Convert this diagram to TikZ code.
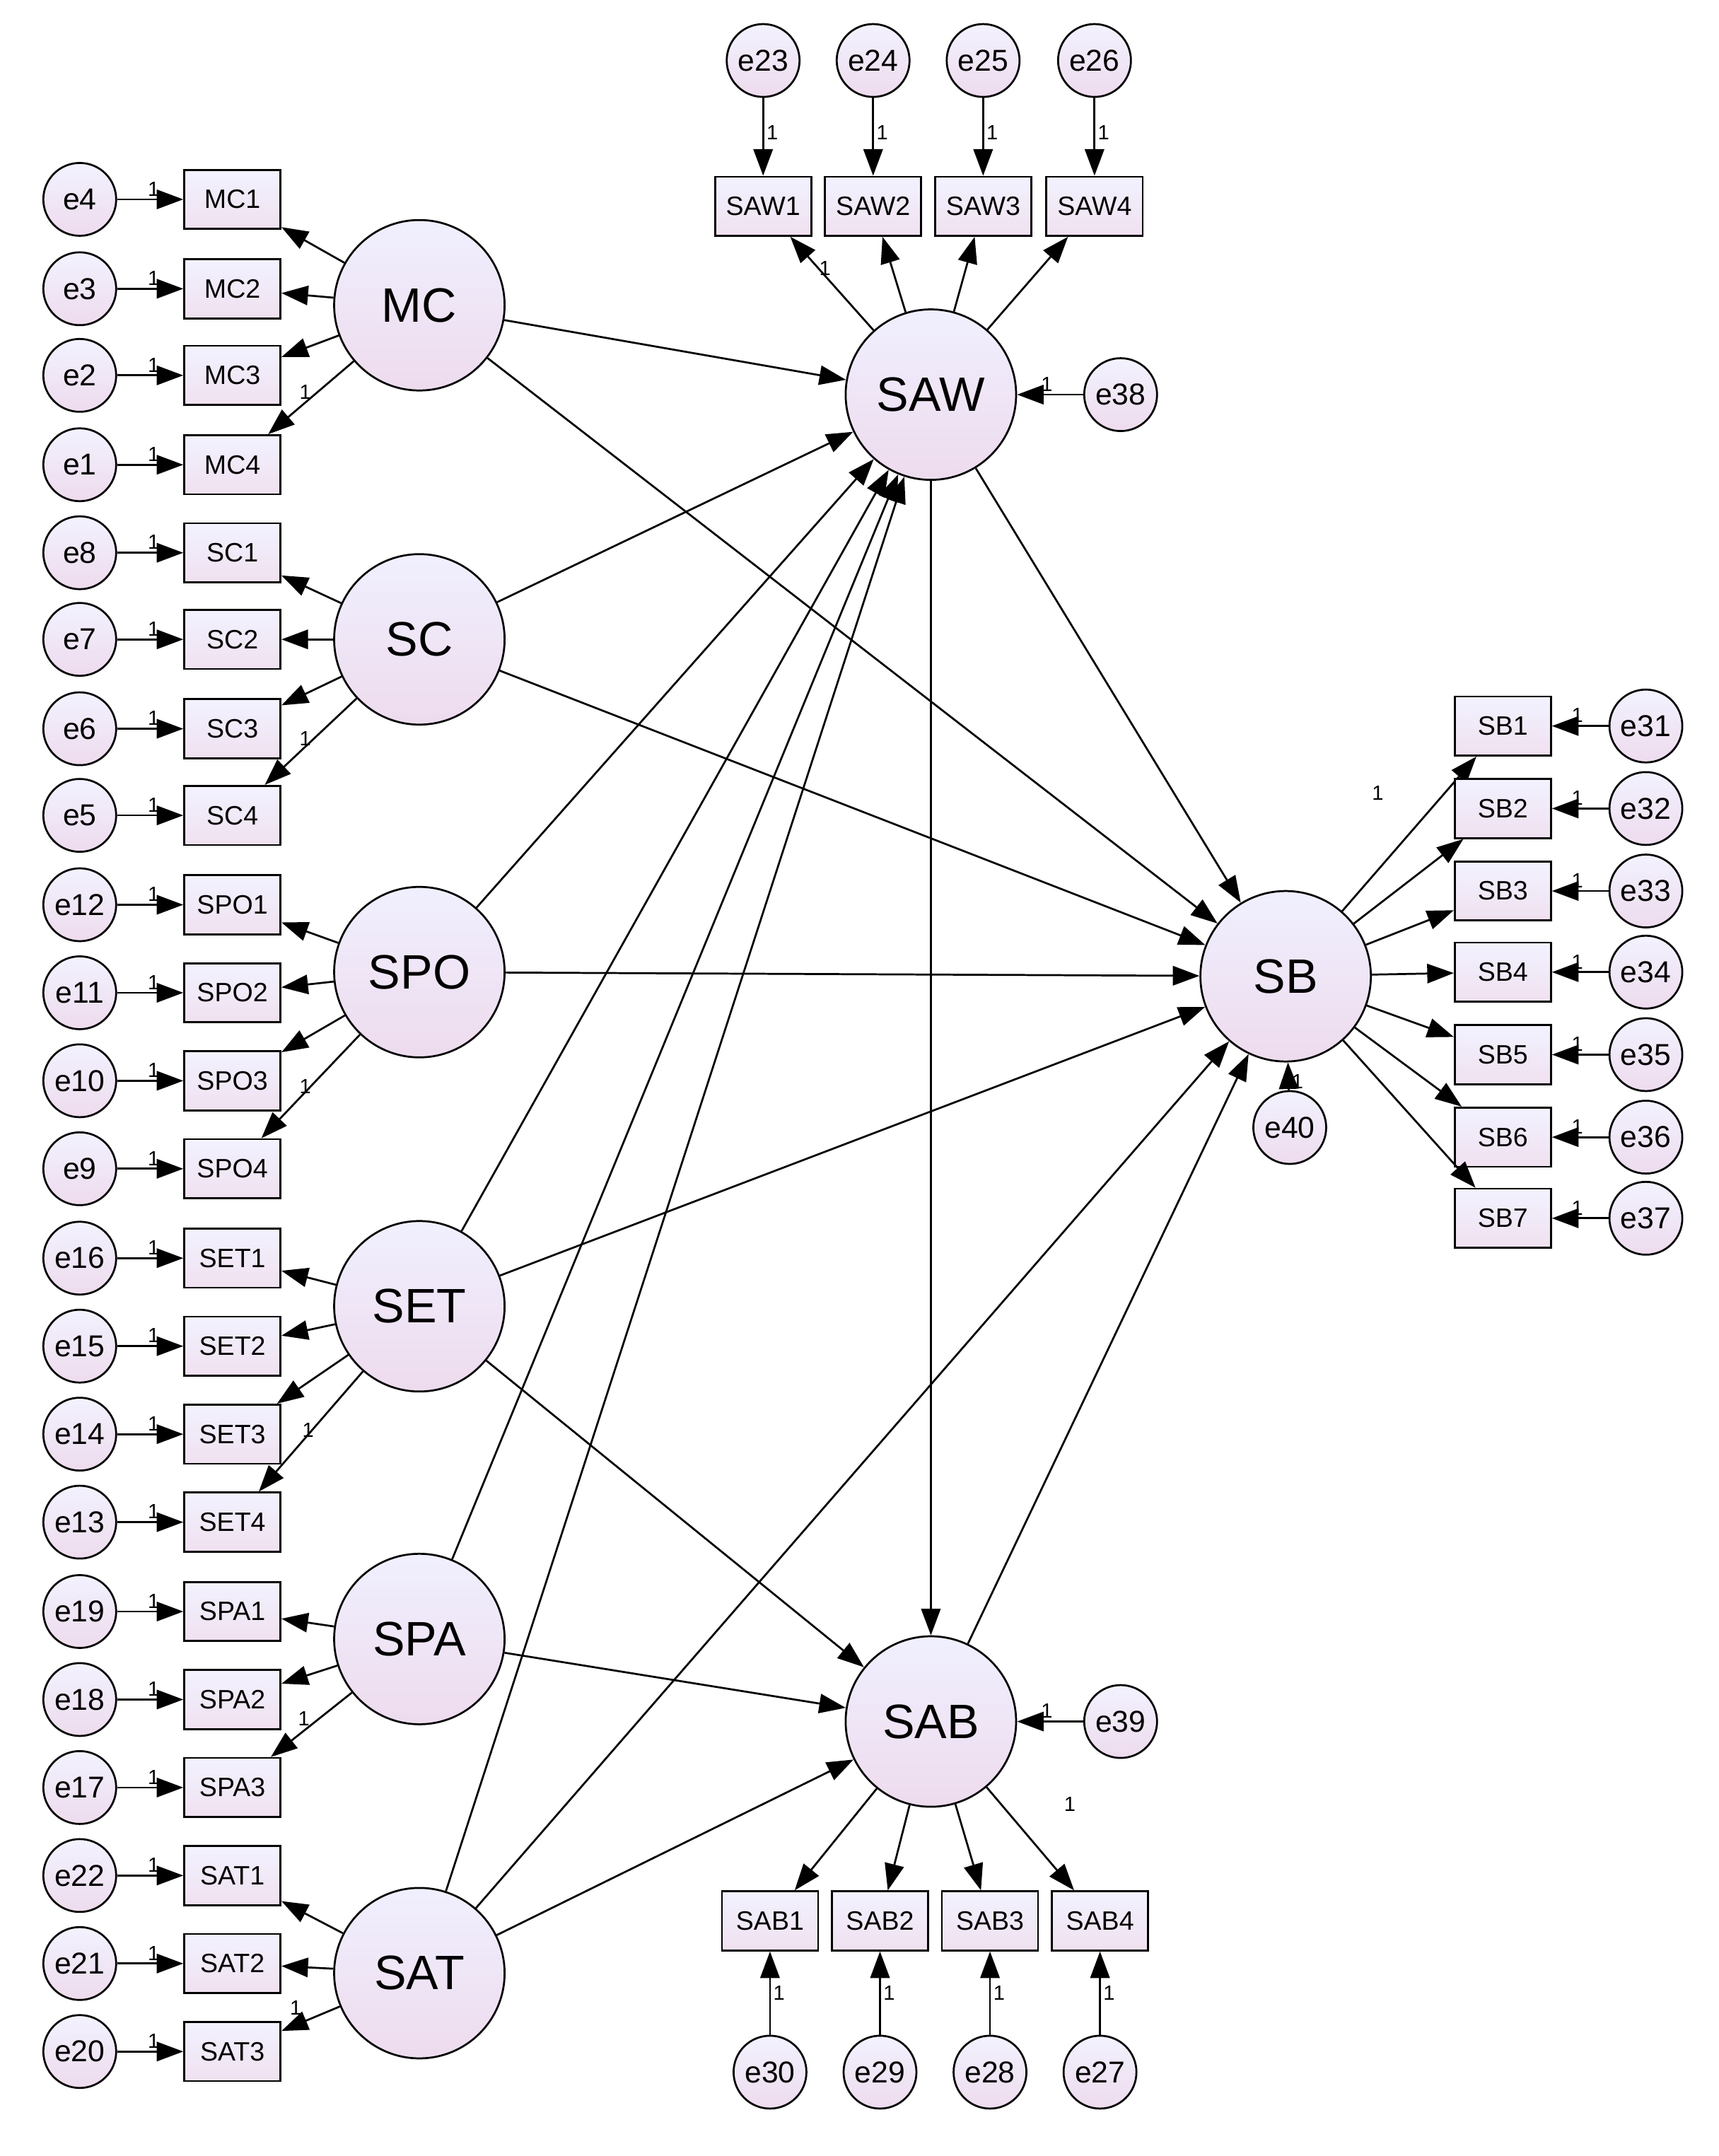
\documentclass[tikz,border=0pt]{standalone}
\usepackage{fontspec}
\setmainfont{Liberation Sans}
\usetikzlibrary{arrows.meta, positioning}
\begin{document}
\begin{tikzpicture}[
  x=0.02cm, y=-0.02cm,
  lat/.style = {circle, draw, thick, top color=violet!8!blue!6, bottom color=violet!14, minimum size=2.48cm, inner sep=0pt, font=\fontsize{20}{20}\selectfont},
  ind/.style = {rectangle, draw, thick, top color=violet!6!blue!5, bottom color=violet!12, minimum width=1.4cm, minimum height=0.86cm, inner sep=0pt, font=\fontsize{11}{11}\selectfont},
  err/.style = {circle, draw, thick, top color=violet!6!blue!5, bottom color=violet!14, minimum size=1.06cm, inner sep=0pt, font=\fontsize{12.5}{12.5}\selectfont},
  one/.style = {font=\fontsize{8.5}{8.5}\selectfont, inner sep=1pt},
  arr/.style = {thick, -{Triangle[length=11pt,width=8pt]}}
  ]
  \useasboundingbox (0,0) rectangle (1250,1568);

  % latent variables
  \node[lat] (MC) at (305,222) {MC};
  \node[lat] (SC) at (305,465) {SC};
  \node[lat] (SPO) at (305,707) {SPO};
  \node[lat] (SET) at (305,950) {SET};
  \node[lat] (SPA) at (305,1192) {SPA};
  \node[lat] (SAT) at (305,1435) {SAT};
  \node[lat] (SAW) at (677,287) {SAW};
  \node[lat] (SB) at (935,710) {SB};
  \node[lat] (SAB) at (677,1252) {SAB};

  % left indicators
  \foreach \l/\n/\y/\e in {MC/MC1/145/e4, MC/MC2/210/e3, MC/MC3/273/e2, MC/MC4/338/e1,
      SC/SC1/402/e8, SC/SC2/465/e7, SC/SC3/530/e6, SC/SC4/593/e5,
      SPO/SPO1/658/e12, SPO/SPO2/722/e11, SPO/SPO3/786/e10, SPO/SPO4/850/e9,
      SET/SET1/915/e16, SET/SET2/979/e15, SET/SET3/1043/e14, SET/SET4/1107/e13,
      SPA/SPA1/1172/e19, SPA/SPA2/1236/e18, SPA/SPA3/1300/e17,
      SAT/SAT1/1364/e22, SAT/SAT2/1428/e21, SAT/SAT3/1492/e20} {
    \node[ind] (\n) at (169,\y) {\n};
    \node[err] (\e) at (58,\y) {\e};
    \draw[arr] (\e) -- node[one, pos=0.55, above] {1} (\n);
    \draw[arr] (\l) -- (\n);
  }
  \node[one] at (222,285) {1};
  \node[one] at (222,537) {1};
  \node[one] at (222,790) {1};
  \node[one] at (224,1040) {1};
  \node[one] at (221,1250) {1};
  \node[one] at (215,1460) {1};

  % SAW indicators
  \foreach \n/\x/\e in {SAW1/555/e23, SAW2/635/e24, SAW3/715/e25, SAW4/796/e26} {
    \node[ind] (\n) at (\x,150) {\n};
    \node[err] (\e) at (\x,44) {\e};
    \draw[arr] (\e) -- node[one, pos=0.45, right] {1} (\n);
    \draw[arr] (SAW) -- (\n);
  }
  \node[one] at (600,195) {1};

  % SAB indicators
  \foreach \n/\x/\e in {SAB1/560/e30, SAB2/640/e29, SAB3/720/e28, SAB4/800/e27} {
    \node[ind] (\n) at (\x,1397) {\n};
    \node[err] (\e) at (\x,1507) {\e};
    \draw[arr] (\e) -- node[one, pos=0.5, right] {1} (\n);
    \draw[arr] (SAB) -- (\n);
  }
  \node[one] at (778,1312) {1};

  % SB indicators
  \foreach \n/\y/\e in {SB1/528/e31, SB2/588/e32, SB3/648/e33, SB4/707/e34, SB5/767/e35, SB6/827/e36, SB7/886/e37} {
    \node[ind] (\n) at (1093,\y) {\n};
    \node[err] (\e) at (1197,\y) {\e};
    \draw[arr] (\e) -- node[one, pos=0.55, above] {1} (\n);
    \draw[arr] (SB) -- (\n);
  }
  \node[one] at (1002,577) {1};

  % residuals
  \node[err] (e38) at (815,287) {e38};
  \node[err] (e39) at (815,1252) {e39};
  \node[err] (e40) at (938,820) {e40};
  \draw[arr] (e38) -- node[one, pos=0.55, above] {1} (SAW);
  \draw[arr] (e39) -- node[one, pos=0.55, above] {1} (SAB);
  \draw[arr] (e40) -- node[one, pos=0.3, right] {1} (SB);

  % structural paths
  \draw[arr] (MC) -- (SAW);
  \draw[arr] (MC) -- (SB);
  \draw[arr] (SC) -- (SAW);
  \draw[arr] (SC) -- (SB);
  \draw[arr] (SPO) -- (SAW);
  \draw[arr] (SPO) -- (SB);
  \draw[arr] (SET) -- (SAW);
  \draw[arr] (SET) -- (SB);
  \draw[arr] (SET) -- (SAB);
  \draw[arr] (SPA) -- (SAW);
  \draw[arr] (SPA) -- (SAB);
  \draw[arr] (SAT) -- (SAW);
  \draw[arr] (SAT) -- (SB);
  \draw[arr] (SAT) -- (SAB);
  \draw[arr] (SAW) -- (SB);
  \draw[arr] (SAW) -- (SAB);
  \draw[arr] (SAB) -- (SB);

\end{tikzpicture}
\end{document}
